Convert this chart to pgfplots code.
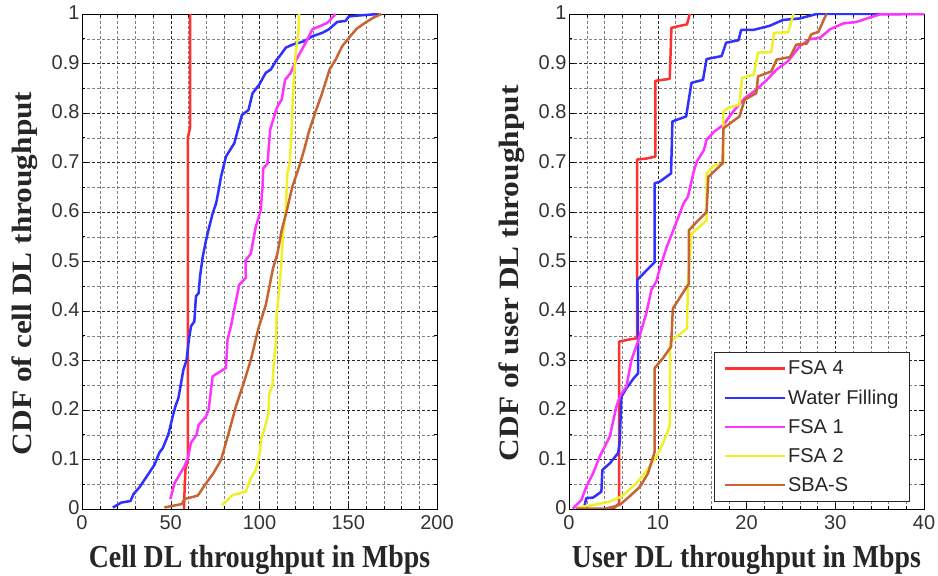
\documentclass[border=0pt]{standalone}
\usepackage{fontspec}
\setmainfont{Liberation Sans}
\newfontfamily\xlabfont{Liberation Serif}[FakeStretch=0.87]
\newfontfamily\ylabfont{Liberation Serif}[FakeStretch=1.12]
\usepackage{pgfplots}
\pgfplotsset{compat=1.18}
\definecolor{cRed}{RGB}{255,48,48}
\definecolor{cBlue}{RGB}{48,48,255}
\definecolor{cMag}{RGB}{255,51,255}
\definecolor{cYel}{RGB}{240,240,40}
\definecolor{cBrn}{RGB}{200,100,50}
\pgfplotsset{
  cdfstyle/.style={
    scale only axis, width=355pt, height=495pt,
    ymin=0, ymax=1,
    ytick={0,0.1,0.2,0.3,0.4,0.5,0.6,0.7,0.8,0.9,1},
    minor y tick num=1,
    grid=both,
    major grid style={dash pattern=on 3pt off 2pt, black!85, line width=0.5pt},
    minor grid style={dash pattern=on 2.5pt off 2.5pt, black!50, line width=0.45pt},
    axis line style={black, line width=0.7pt},
    tick style={black, line width=0.5pt},
    major tick length=5pt, minor tick length=3pt,
    tick label style={font=\fontsize{20}{22}\selectfont, text=black!80},
    /pgf/number format/assume math mode=true,
    yticklabel style={xshift=1pt, yshift=1pt},
    xticklabel style={yshift=-3.5pt},
    every axis plot/.append style={line width=2.5pt, line join=round},
    xlabel style={at={(axis description cs:0.5,-0.119)}, anchor=base, font=\xlabfont\bfseries\fontsize{32}{36}\selectfont, text=black!85},
    ylabel style={at={(axis description cs:-0.141,0.476)}, anchor=base, font=\ylabfont\bfseries\fontsize{28}{32}\selectfont, text=black!85},
  }
}
\begin{document}
\begin{tikzpicture}[x=1pt,y=1pt]
\path[use as bounding box] (0,0) rectangle (938,576);
\begin{axis}[cdfstyle, at={(82pt,67pt)}, anchor=south west,
  xmin=0, xmax=200, xtick={0,50,100,150,200}, minor x tick num=4,
  xlabel={Cell DL throughput in Mbps}, ylabel={CDF of cell DL throughput}]
\addplot[cRed] coordinates {(57.5,0) (57.8,0.04) (58.3,0.08) (59.6,0.1) (59.6,0.75) (60.9,0.77) (60.9,1)};
\addplot[cBlue] coordinates {(17.4,0.003) (22.1,0.013) (27.3,0.016) (29.0,0.03) (32.4,0.044) (35.8,0.062) (40.8,0.089) (43.6,0.114) (45.5,0.123) (47.8,0.143) (48.9,0.154) (51.1,0.187) (52.6,0.207) (54.3,0.224) (55.8,0.254) (57.1,0.281) (58.9,0.301) (60.1,0.339) (61.4,0.369) (63.3,0.379) (64.2,0.43) (65.7,0.436) (66.5,0.47) (68.0,0.509) (69.9,0.543) (71.2,0.563) (73.6,0.597) (75.5,0.617) (77.0,0.644) (78.3,0.671) (81.1,0.712) (85.8,0.739) (87.6,0.763) (90.1,0.796) (93.8,0.806) (96.1,0.840) (99.8,0.857) (103.5,0.881) (106.4,0.888) (109.2,0.905) (112.0,0.918) (114.8,0.932) (118.5,0.938) (125.1,0.945) (129.8,0.955) (135.4,0.962) (139.1,0.969) (143.8,0.984) (148.5,0.986) (150.4,0.995) (156.0,0.997) (167.2,1.0)};
\addplot[cMag] coordinates {(49.8,0.02) (52.1,0.052) (57.7,0.086) (59.6,0.102) (61.4,0.134) (64.6,0.150) (65.7,0.170) (69.9,0.187) (71.3,0.200) (73.6,0.268) (81.1,0.285) (82.0,0.342) (83.9,0.369) (86.1,0.409) (88.6,0.453) (92.3,0.467) (92.1,0.502) (95.1,0.516) (97.9,0.570) (100.7,0.604) (101.7,0.651) (102.1,0.688) (104.5,0.698) (106.0,0.766) (108.8,0.800) (110.1,0.813) (112.5,0.827) (114.4,0.867) (117.6,0.881) (120.8,0.908) (126.0,0.942) (129.8,0.969) (138.2,0.982) (142.9,1.0)};
\addplot[cYel] coordinates {(78.8,0.008) (81.1,0.015) (84.8,0.028) (92.3,0.035) (95.1,0.062) (97.9,0.079) (99.8,0.106) (101.1,0.143) (102.1,0.153) (103.9,0.177) (105.1,0.194) (105.4,0.231) (107.3,0.251) (108.2,0.301) (109.2,0.335) (109.6,0.389) (111.1,0.443) (112.2,0.49) (113.3,0.556) (114.8,0.604) (115.7,0.678) (117.0,0.698) (118.2,0.773) (118.5,0.813) (119.5,0.874) (120.4,0.922) (121.9,0.962) (122.3,1.0)};
\addplot[cBrn] coordinates {(46.4,0.003) (56.2,0.01) (57.7,0.02) (65.2,0.027) (69.9,0.052) (74.0,0.072) (78.3,0.099) (82.6,0.153) (86.7,0.207) (91.4,0.258) (95.1,0.301) (99.4,0.365) (103.6,0.413) (107.6,0.486) (110.1,0.516) (112.5,0.563) (115.2,0.600) (118.5,0.651) (122.3,0.691) (125.1,0.725) (127.9,0.763) (131.6,0.803) (135.0,0.837) (139.5,0.888) (142.9,0.908) (146.6,0.935) (150.4,0.952) (154.7,0.970) (159.4,0.982) (164.4,0.993) (168.7,1.0)};
\end{axis}
\begin{axis}[cdfstyle, at={(569pt,67pt)}, anchor=south west,
  xmin=0, xmax=40, xtick={0,10,20,30,40}, minor x tick num=4,
  xlabel={User DL throughput in Mbps}, ylabel={CDF of user DL throughput},
  legend style={at={(0.96,0.014)}, anchor=south east, draw=black!85, line width=0.6pt, fill=white,
    font=\fontsize{20}{24}\selectfont, text=black!85, inner xsep=9pt, inner ysep=7pt, row sep=9.5pt},
  legend image code/.code={\draw[#1] (0pt,0pt) -- (60pt,0pt);},
  legend cell align=left]
\addplot[cRed] coordinates {(4.4,0) (5.15,0.003) (5.64,0.011) (5.64,0.338) (6.65,0.342) (7.67,0.345) (7.67,0.706) (8.72,0.708) (9.74,0.712) (9.74,0.865) (11.35,0.869) (11.54,0.972) (12.5,0.976) (13.3,0.979) (13.6,1)};
\addlegendentry{FSA 4}
\addplot[cBlue] coordinates {(1.77,0.008) (1.95,0.022) (2.71,0.023) (3.65,0.035) (3.76,0.079) (4.59,0.092) (5.53,0.113) (5.71,0.133) (5.90,0.227) (6.47,0.244) (7.29,0.264) (7.78,0.274) (7.78,0.349) (7.7,0.463) (9.66,0.499) (9.66,0.658) (10.2,0.661) (11.5,0.678) (11.65,0.783) (13.2,0.793) (13.8,0.861) (15.1,0.867) (15.5,0.909) (17.2,0.915) (17.7,0.942) (19.1,0.947) (19.4,0.968) (20.8,0.968) (22.6,0.976) (24.1,0.988) (26.0,0.991) (27.9,1) (40,1)};
\addlegendentry{Water Filling}
\addplot[cMag] coordinates {(0.45,0.001) (1.39,0.018) (1.95,0.045) (2.71,0.072) (3.46,0.106) (4.59,0.146) (5.34,0.207) (5.83,0.231) (6.47,0.247) (7.03,0.301) (7.78,0.339) (8.72,0.396) (9.29,0.443) (9.85,0.460) (10.1,0.478) (11.0,0.529) (11.9,0.570) (12.9,0.617) (13.4,0.631) (14.0,0.678) (14.4,0.702) (15.2,0.725) (15.5,0.746) (16.4,0.763) (17.4,0.776) (18.5,0.803) (19.8,0.830) (21.1,0.847) (22.3,0.867) (23.4,0.888) (24.7,0.905) (26.0,0.935) (27.1,0.949) (28.3,0.952) (29.4,0.969) (30.9,0.981) (32.4,0.984) (33.9,0.993) (35.0,0.999) (40,1)};
\addlegendentry{FSA 1}
\addplot[cYel] coordinates {(1.0,0.003) (2.7,0.008) (4.6,0.015) (5.9,0.025) (7.6,0.052) (8.7,0.076) (9.85,0.106) (10.6,0.133) (11.35,0.167) (11.4,0.338) (11.9,0.345) (12.9,0.359) (13.3,0.365) (13.4,0.457) (13.8,0.556) (15.5,0.583) (15.5,0.678) (16.4,0.695) (17.4,0.698) (17.4,0.803) (17.9,0.810) (19.2,0.817) (19.5,0.871) (20.8,0.877) (21.3,0.922) (22.8,0.923) (23.1,0.962) (24.7,0.963) (25.3,1.0)};
\addlegendentry{FSA 2}
\addplot[cBrn] coordinates {(0.8,0.001) (4.2,0.001) (5.7,0.008) (6.8,0.025) (8.0,0.045) (8.9,0.072) (9.66,0.116) (9.66,0.285) (10.6,0.305) (11.5,0.328) (11.7,0.405) (13.5,0.455) (13.5,0.563) (14.4,0.580) (15.5,0.600) (15.7,0.671) (17.3,0.698) (17.4,0.769) (19.2,0.793) (19.8,0.827) (21.1,0.840) (21.3,0.874) (22.8,0.884) (23.4,0.908) (24.9,0.913) (25.6,0.938) (26.8,0.940) (27.3,0.959) (28.1,0.964) (29.0,1.0)};
\addlegendentry{SBA-S}
\end{axis}
\end{tikzpicture}
\end{document}
